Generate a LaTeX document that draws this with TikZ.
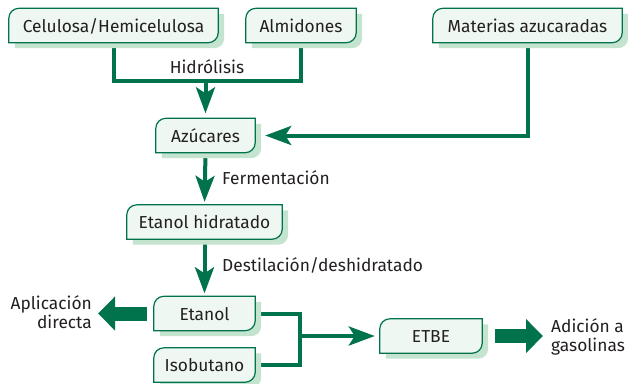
\documentclass[tikz,border=0pt]{standalone}
\usepackage{fontspec}
\setmainfont{Fira Sans}
\usetikzlibrary{arrows.meta}
\definecolor{dkgreen}{RGB}{0,114,76}
\definecolor{boxfill}{RGB}{239,247,242}
\definecolor{shadowc}{RGB}{197,228,208}
\definecolor{txt}{RGB}{35,31,32}
\pgfdeclarelayer{connlayer}
\pgfdeclarelayer{boxlayer}
\pgfsetlayers{connlayer,boxlayer,main}
\newcommand\boxshape[4]{%
  \path[#1] ([shift={(#3,#4-10bp)}]#2.north west) arc[start angle=180,end angle=90,radius=10bp]
    -- ([shift={(#3,#4)}]#2.north east)
    -- ([shift={(#3,#4+10bp)}]#2.south east) arc[start angle=0,end angle=-90,radius=10bp]
    -- ([shift={(#3,#4)}]#2.south west) -- cycle;}
\newcommand\procbox[1]{%
  \begin{pgfonlayer}{boxlayer}
    \boxshape{fill=shadowc}{#1}{6bp}{-5.5bp}
    \boxshape{fill=boxfill,draw=dkgreen,line width=1.2bp}{#1}{0bp}{0bp}
  \end{pgfonlayer}}
\tikzset{
  stepbox/.style={inner sep=0pt, minimum height=34bp, text height=13.5bp, text depth=0pt, text=txt},
  lbl/.style={inner sep=0pt, text=txt},
  conn/.style={draw=dkgreen, line width=4bp},
  stealthy/.style={-{Stealth[length=26bp,width=19bp,inset=6bp]}},
  bigarrow/.style={draw=dkgreen, line width=14bp, -{Triangle[length=17bp,width=33bp]}},
}
\begin{document}
\begin{tikzpicture}[x=1bp,y=1bp,font=\fontsize{17.4}{19.2}\selectfont]
\useasboundingbox (0,0) rectangle (628,-383);
% boxes
\node[stepbox, minimum width=209bp] (cel) at (113.5,-25.5) {Celulosa/Hemicelulosa};
\node[stepbox, minimum width=110bp] (alm) at (301,-25.5) {Almidones};
\node[stepbox, minimum width=189bp] (mat) at (527.5,-25.5) {Materias azucaradas};
\node[stepbox, minimum width=99bp] (azu) at (205.5,-135.5) {Azúcares};
\node[stepbox, minimum width=155bp] (eth) at (204.5,-222) {Etanol hidratado};
\node[stepbox, minimum width=101bp] (eta) at (204.5,-313.5) {Etanol};
\node[stepbox, minimum width=101bp] (iso) at (204.5,-365) {Isobutano};
\node[stepbox, minimum width=102bp] (etbe) at (431,-336) {ETBE};
\foreach \n in {cel,alm,mat,azu,eth,eta,iso,etbe}{\procbox{\n}}
% labels
\node[lbl, anchor=base] (hid) at (207,-73) {Hidrólisis};
\node[lbl, anchor=base west] (fer) at (222,-184) {Fermentación};
\node[lbl, anchor=base west] (des) at (222,-271) {Destilación/deshidratado};
\node[lbl, anchor=east, align=right] (apl) at (92,-312) {Aplicación\\directa};
\node[lbl, anchor=west, align=left] (adi) at (551,-336.5) {Adición a\\gasolinas};
% coordinates
\coordinate (hj) at (205.5,-81);
\coordinate (mj) at (300,-336);
\coordinate (aptip) at (98,-313.5);
\coordinate (adtip) at (543,-336);
% connectors
\begin{pgfonlayer}{connlayer}
\draw[conn] (cel.south) |- (hj) -| (alm.south);
\draw[conn, stealthy, shorten >=5bp] (hj) -- (azu.north);
\draw[conn, stealthy, shorten >=10bp] (mat.south) |- (azu.east);
\draw[conn, stealthy, shorten >=3bp] (azu.south) -- (eth.north);
\draw[conn, stealthy, shorten >=3bp] (eth.south) -- (eta.north);
\draw[conn] (eta.east) -| (mj) |- (iso.east);
\draw[conn, stealthy, shorten >=5bp] (mj) -- (etbe.west);
\end{pgfonlayer}
\draw[bigarrow, shorten <=7bp] (eta.west) -- (aptip);
\draw[bigarrow, shorten <=13bp] (etbe.east) -- (adtip);
\end{tikzpicture}
\end{document}
